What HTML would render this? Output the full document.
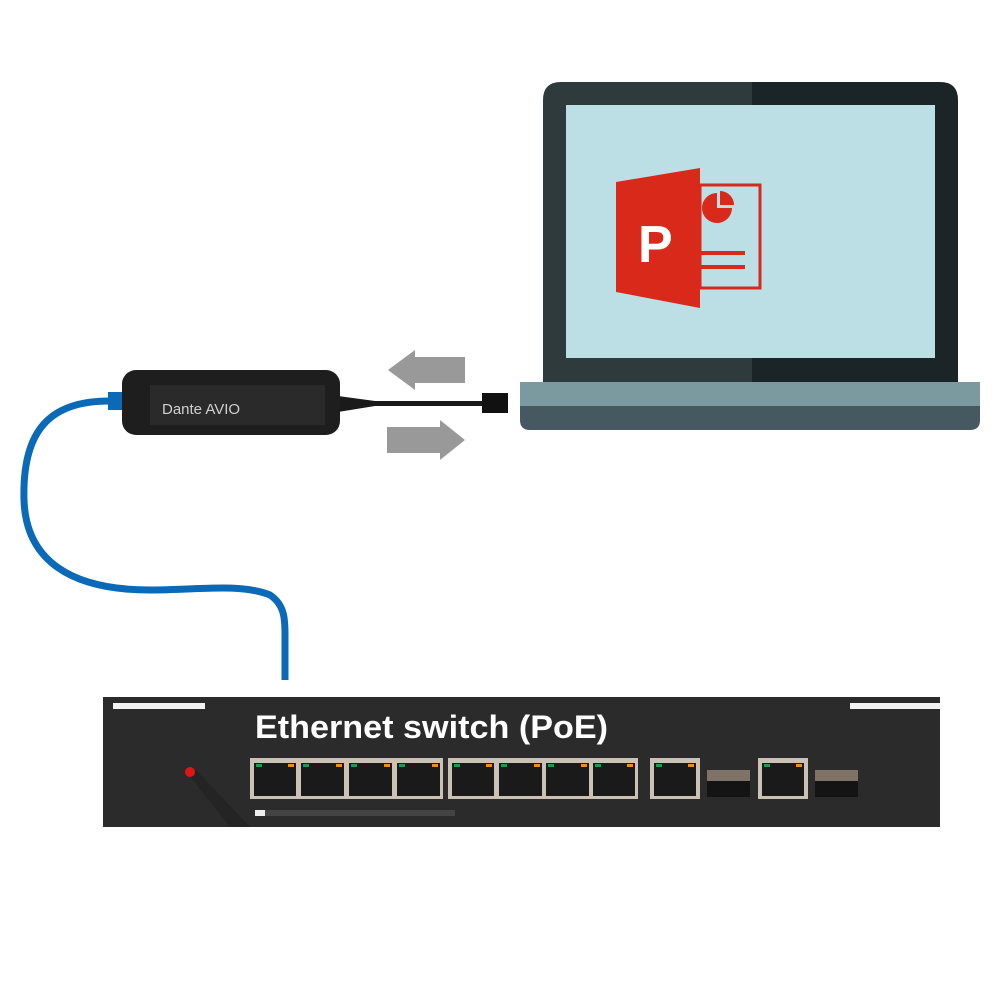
<!DOCTYPE html>
<html><head><meta charset="utf-8"><style>html,body{margin:0;padding:0;background:#fff}svg{display:block}</style></head>
<body>
<svg width="1000" height="1000" viewBox="0 0 1000 1000" xmlns="http://www.w3.org/2000/svg">
<rect width="1000" height="1000" fill="#fff"/>
<!-- Laptop -->
<path d="M543,382 V100 Q543,82 561,82 H752 V382 Z" fill="#2f3a3d"/>
<path d="M752,82 H940 Q958,82 958,100 V382 H752 Z" fill="#1b2527"/>
<rect x="566" y="105" width="369" height="253" fill="#bcdee5"/>
<rect x="520" y="382" width="460" height="24" fill="#7a9aa0"/>
<path d="M520,406 H980 V420 Q980,430 970,430 H530 Q520,430 520,420 Z" fill="#465860"/>
<!-- PPT icon -->
<rect x="700" y="185" width="60" height="103" fill="none" stroke="#d9291b" stroke-width="3"/>
<path d="M717,208 V193 A15,15 0 1 0 732,208 Z" fill="#d9291b"/>
<path d="M720,205 V191 A14,14 0 0 1 734,205 Z" fill="#d9291b"/>
<rect x="700" y="251" width="45" height="4" fill="#d9291b"/>
<rect x="700" y="265" width="45" height="4" fill="#d9291b"/>
<polygon points="616,182 700,168 700,308 616,292" fill="#d9291b"/>
<text x="638" y="262" font-family="Liberation Sans, sans-serif" font-weight="bold" font-size="52" fill="#fff">P</text>
<!-- Arrows -->
<polygon points="388,370 415,350 415,357 465,357 465,383 415,383 415,390" fill="#999"/>
<polygon points="465,440 440,420 440,427 387,427 387,453 440,453 440,460" fill="#999"/>
<!-- Blue cable -->
<path d="M112,401 C50,400 22,430 24,500 C26,560 70,590 150,590 C200,590 240,583 270,595 C285,605 285,620 285,635 L285,680" fill="none" stroke="#0a6ab8" stroke-width="7"/>
<rect x="108" y="392" width="22" height="18" fill="#0a6ab8"/>
<!-- Dante AVIO -->
<path d="M338,396 L375,401 L482,401 L482,406 L375,406 L338,412 Z" fill="#1a1a1a"/>
<rect x="482" y="393" width="26" height="20" fill="#111"/>
<rect x="122" y="370" width="218" height="65" rx="14" fill="#1e1e1e"/>
<rect x="150" y="385" width="175" height="40" fill="#2a2a2a"/>
<text x="162" y="414" font-family="Liberation Sans, sans-serif" font-size="15" fill="#d0d0d0">Dante AVIO</text>
<!-- Switch -->
<rect x="103" y="697" width="837" height="130" fill="#2b2b2b"/>
<rect x="113" y="703" width="92" height="6" fill="#f2f2f2"/>
<rect x="850" y="703" width="90" height="6" fill="#f2f2f2"/>
<text x="255" y="738" font-family="Liberation Sans, sans-serif" font-weight="bold" font-size="32" fill="#fff" textLength="353" lengthAdjust="spacingAndGlyphs">Ethernet switch (PoE)</text>
<polygon points="188,774 230,827 250,827 196,770" fill="#242424"/>
<circle cx="190" cy="772" r="5" fill="#e01515"/>
<rect x="250" y="758" width="193" height="41" fill="#c9c2b5"/>
<rect x="448" y="758" width="190" height="41" fill="#c9c2b5"/>
<rect x="650" y="758" width="50" height="41" fill="#c9c2b5"/>
<rect x="758" y="758" width="50" height="41" fill="#c9c2b5"/>
<g fill="#1a1a1a">
<rect x="254" y="763" width="42" height="33"/><rect x="301" y="763" width="43" height="33"/><rect x="349" y="763" width="43" height="33"/><rect x="397" y="763" width="43" height="33"/>
<rect x="452" y="763" width="42" height="33"/><rect x="499" y="763" width="43" height="33"/><rect x="546" y="763" width="43" height="33"/><rect x="593" y="763" width="42" height="33"/>
<rect x="654" y="763" width="42" height="33"/><rect x="762" y="763" width="42" height="33"/>
</g>
<g fill="#1a9a4a">
<rect x="256" y="764" width="6" height="3"/><rect x="303" y="764" width="6" height="3"/><rect x="351" y="764" width="6" height="3"/><rect x="399" y="764" width="6" height="3"/>
<rect x="454" y="764" width="6" height="3"/><rect x="501" y="764" width="6" height="3"/><rect x="548" y="764" width="6" height="3"/><rect x="595" y="764" width="6" height="3"/>
<rect x="656" y="764" width="6" height="3"/><rect x="764" y="764" width="6" height="3"/>
</g>
<g fill="#e8901a">
<rect x="288" y="764" width="6" height="3"/><rect x="336" y="764" width="6" height="3"/><rect x="384" y="764" width="6" height="3"/><rect x="432" y="764" width="6" height="3"/>
<rect x="486" y="764" width="6" height="3"/><rect x="534" y="764" width="6" height="3"/><rect x="581" y="764" width="6" height="3"/><rect x="627" y="764" width="6" height="3"/>
<rect x="688" y="764" width="6" height="3"/><rect x="796" y="764" width="6" height="3"/>
</g>
<rect x="707" y="770" width="43" height="11" fill="#7e7366"/>
<rect x="707" y="781" width="43" height="16" fill="#141414"/>
<rect x="815" y="770" width="43" height="11" fill="#7e7366"/>
<rect x="815" y="781" width="43" height="16" fill="#141414"/>
<rect x="255" y="810" width="200" height="6" fill="#444"/>
<rect x="255" y="810" width="10" height="6" fill="#eee"/>
</svg>
</body></html>
